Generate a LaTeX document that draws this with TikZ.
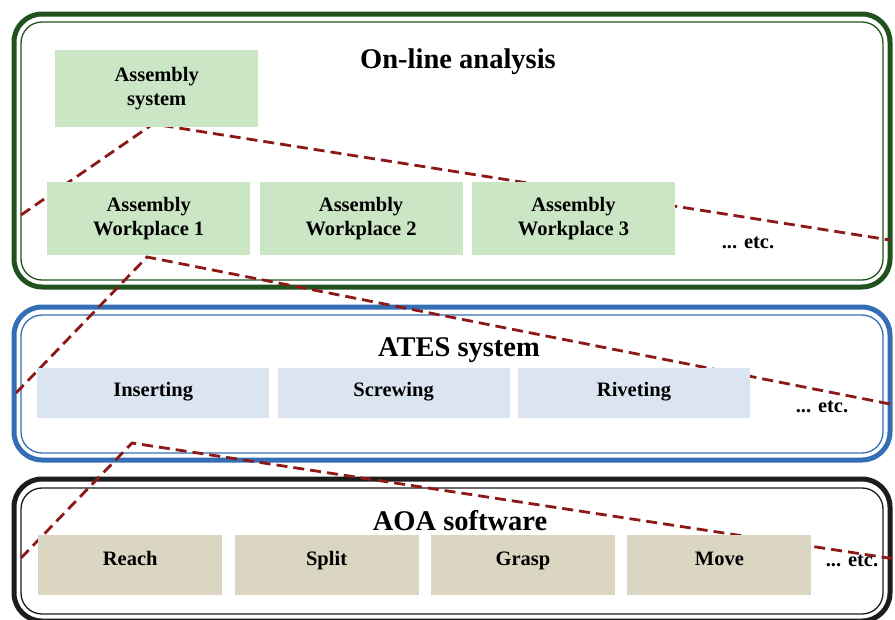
\documentclass[tikz,border=0pt]{standalone}
\usepackage{fontspec}
\setmainfont{Liberation Serif}
\usepackage{xcolor}
\usepackage{tikz}
\usetikzlibrary {positioning}
\usetikzlibrary{arrows}
\definecolor{framegreen}{RGB}{32,82,30}
\definecolor{frameblue}{RGB}{52,110,180}
\definecolor{frameblack}{RGB}{28,28,28}
\definecolor{fillgreen}{RGB}{202,230,197}
\definecolor{fillblue}{RGB}{219,229,241}
\definecolor{filltan}{RGB}{218,214,194}
\definecolor{tracered}{RGB}{140,24,24}
\tikzset{trace/.style = {tracered,line width=2.8pt,dash pattern=on 11pt off 6pt}}

\begin{document}
\begin{tikzpicture}[x=1pt,y=-1pt,
    outer/.style={line width=5pt,rounded corners=28pt},
    inner/.style={line width=1.3pt,rounded corners=21pt},
    box/.style={inner sep=0pt,align=center,font=\bfseries\fontsize{20.5}{24}\selectfont},
    green box/.style={box,fill=fillgreen,minimum width=203pt,minimum height=73pt},
    blue box/.style={box,fill=fillblue,minimum width=232pt,minimum height=50pt,text height=14pt,text depth=8pt},
    tan box/.style={box,fill=filltan,minimum width=184pt,minimum height=60pt,text height=14pt,text depth=14pt},
    title/.style={font=\bfseries\fontsize{28.5}{32}\selectfont},
    etc/.style={font=\bfseries\fontsize{20.5}{24}\selectfont}]
            \useasboundingbox (0,0) rectangle (895,619);

            % frames
            \draw[outer,framegreen] (14,14) rectangle (890,287);
            \draw[inner,framegreen] (21,22) rectangle (883,280);
            \draw[outer,frameblue] (14,307) rectangle (890,460);
            \draw[inner,frameblue] (21,315) rectangle (883,453);
            \draw[outer,frameblack] (14,479) rectangle (890,621);
            \draw[inner,frameblack] (21,488) rectangle (883,614);

            % dashed links
            \coordinate (a1) at (21,215);
            \coordinate (a2) at (153,124);
            \coordinate (a3) at (890,240);
            \coordinate (b1) at (16,393);
            \coordinate (b2) at (147,257);
            \coordinate (b3) at (895,405);
            \coordinate (c1) at (21,558);
            \coordinate (c2) at (132,443);
            \coordinate (c3) at (895,559);
            \draw[trace] (a1) -- (a2) -- (a3);
            \draw[trace] (b1) -- (b2) -- (b3);
            \draw[trace] (c1) -- (c2) -- (c3);

            % on-line analysis
            \node[title] (t1) at (458,62) {On-line analysis};
            \node[green box,minimum height=77pt,anchor=north west] (sys) at (55,50) {Assembly\\system};
            \node[green box,anchor=north west] (wp1) at (47,182) {Assembly\\Workplace 1};
            \node[green box] (wp2) [right=9pt of wp1] {Assembly\\Workplace 2};
            \node[green box] (wp3) [right=9pt of wp2] {Assembly\\Workplace 3};
            \node[etc] (e1) at (748,243) {... etc.};

            % ATES system
            \node[title] (t2) at (459,350) {ATES system};
            \node[blue box,anchor=north west] (ins) at (37,368) {Inserting};
            \node[blue box] (scr) [right=8pt of ins] {Screwing};
            \node[blue box] (riv) [right=8pt of scr] {Riveting};
            \node[etc] (e2) at (822,407) {... etc.};

            % AOA software
            \node[title] (t3) at (460,521) {AOA software};
            \node[tan box,anchor=north west] (rea) at (38,535) {Reach};
            \node[tan box] (spl) [right=12pt of rea] {Split};
            \node[tan box] (gra) [right=12pt of spl] {Grasp};
            \node[tan box] (mov) [right=12pt of gra] {Move};
            \node[etc] (e3) at (852,561) {... etc.};
        \end{tikzpicture}
\end{document}
